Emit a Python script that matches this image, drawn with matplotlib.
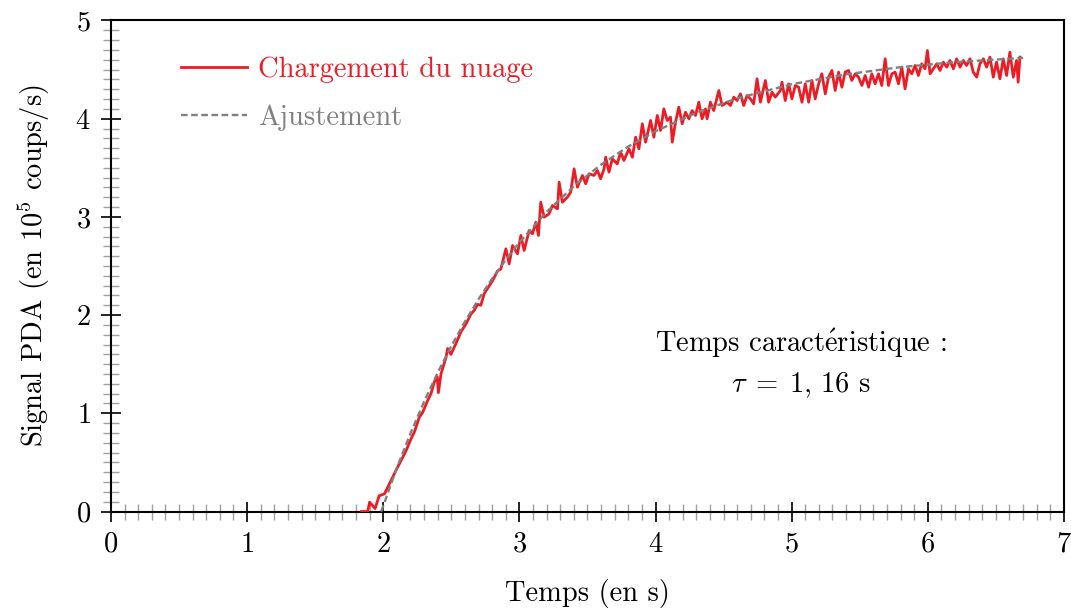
import matplotlib
matplotlib.use("Agg")
import matplotlib.pyplot as plt
from matplotlib.ticker import MultipleLocator

plt.rcParams['font.family'] = ['cmr10', 'DejaVu Serif']
plt.rcParams['mathtext.fontset'] = 'cm'
plt.rcParams['axes.formatter.use_mathtext'] = True

# mesure (signal PDA, en 1e5 coups/s)
t_mesure = [1.84, 1.886, 1.90, 1.94, 1.97, 2.009, 2.045, 2.094, 2.131, 2.168, 2.204, 2.229,
            2.265, 2.290, 2.326, 2.351, 2.375, 2.397, 2.405, 2.424, 2.461, 2.473, 2.497, 2.534,
            2.571, 2.608, 2.644, 2.669, 2.693, 2.717, 2.742, 2.779, 2.803, 2.840, 2.864,
            2.901, 2.925, 2.950, 2.986, 3.011, 3.035, 3.072, 3.096, 3.121, 3.140, 3.157, 3.182,
            3.218, 3.243, 3.280, 3.292, 3.316, 3.353, 3.377, 3.402, 3.426, 3.463, 3.487, 3.512,
            3.548, 3.573, 3.597, 3.622, 3.634, 3.658, 3.683, 3.719, 3.744, 3.768, 3.805, 3.830,
            3.854, 3.878,
            3.903, 3.927, 3.964, 3.988, 4.013, 4.037, 4.061, 4.086, 4.110, 4.123, 4.147, 4.171,
            4.196, 4.220, 4.245, 4.269, 4.294, 4.318, 4.342, 4.367, 4.379, 4.403, 4.428, 4.465,
            4.489, 4.526, 4.550, 4.575, 4.599, 4.624, 4.648, 4.672, 4.697, 4.721, 4.746, 4.770,
            4.807, 4.831, 4.856, 4.880, 4.917,
            4.929, 4.953, 4.978, 5.002, 5.027, 5.051, 5.076, 5.100, 5.125, 5.149, 5.173, 5.198,
            5.222, 5.247, 5.271, 5.296, 5.320, 5.345, 5.369, 5.393, 5.418, 5.442, 5.467, 5.491,
            5.516, 5.540, 5.565, 5.589, 5.613, 5.638, 5.662, 5.687, 5.711, 5.736, 5.760, 5.785,
            5.809,
            5.833, 5.858, 5.882, 5.907, 5.931, 5.955, 5.980, 5.997, 6.017, 6.041, 6.066, 6.090,
            6.114, 6.139, 6.163, 6.188, 6.212, 6.237, 6.261, 6.285, 6.310, 6.334, 6.359, 6.383,
            6.408, 6.432, 6.457, 6.481, 6.505, 6.530, 6.554, 6.579, 6.603, 6.628, 6.652, 6.664,
            6.677]
signal_mesure = [0.0, 0.0, 0.095, 0.03, 0.16, 0.18, 0.28, 0.42, 0.52, 0.62, 0.74, 0.81,
                 0.96, 1.01, 1.13, 1.20, 1.32, 1.37, 1.21, 1.40, 1.57, 1.66, 1.60, 1.71,
                 1.83, 1.91, 2.01, 2.05, 2.11, 2.10, 2.22, 2.30, 2.35, 2.45, 2.47,
                 2.675, 2.522, 2.709, 2.624, 2.811, 2.658, 2.862, 2.828, 2.946, 2.811, 3.150, 2.997,
                 3.031, 3.116, 3.082, 3.354, 3.150, 3.201, 3.252, 3.489, 3.303, 3.422, 3.337, 3.439,
                 3.422, 3.473, 3.388, 3.489, 3.608, 3.456, 3.591, 3.540, 3.659, 3.574, 3.693, 3.608,
                 3.812, 3.693,
                 3.948, 3.761, 3.982, 3.812, 4.033, 3.880, 4.100, 3.982, 4.016, 3.761, 3.965, 4.118,
                 3.948, 4.066, 3.999, 4.083, 4.033, 4.168, 3.999, 4.100, 3.999, 4.168, 4.083, 4.287,
                 4.134, 4.168, 4.134, 4.219, 4.185, 4.253, 4.134, 4.236, 4.202, 4.151, 4.406, 4.168,
                 4.389, 4.168, 4.270, 4.219, 4.287,
                 4.372, 4.185, 4.355, 4.202, 4.338, 4.321, 4.168, 4.355, 4.168, 4.389, 4.202, 4.355,
                 4.457, 4.253, 4.423, 4.491, 4.287, 4.474, 4.321, 4.474, 4.491, 4.389, 4.457, 4.423,
                 4.338, 4.440, 4.321, 4.457, 4.355, 4.457, 4.338, 4.610, 4.338, 4.457, 4.474, 4.355,
                 4.525,
                 4.304, 4.508, 4.457, 4.542, 4.440, 4.559, 4.508, 4.694, 4.457, 4.508, 4.559, 4.491,
                 4.576, 4.525, 4.593, 4.508, 4.610, 4.525, 4.593, 4.542, 4.610, 4.474, 4.423, 4.559,
                 4.610, 4.525, 4.627, 4.423, 4.576, 4.406, 4.610, 4.440, 4.677, 4.423, 4.593, 4.372,
                 4.627]

# ajustement exponentiel (tau = 1,16 s)
t_ajust = [1.985, 2.1, 2.2, 2.3, 2.4, 2.5, 2.6, 2.7, 2.8, 2.9, 3.0, 3.2, 3.4, 3.6, 3.8,
           4.0, 4.3, 4.6, 5.0, 5.4, 5.8, 6.2, 6.7]
signal_ajust = [0.0, 0.444, 0.795, 1.118, 1.414, 1.685, 1.934, 2.162, 2.372, 2.564, 2.741,
                3.051, 3.312, 3.532, 3.717, 3.872, 4.061, 4.207, 4.351, 4.452, 4.525, 4.576, 4.619]

rouge = '#ed1c24'
gris = '#808080'
fs = 20.5

fig = plt.figure(figsize=(10.71, 6.08), dpi=100)
ax = fig.add_axes([0.1036, 0.1587, 0.8898, 0.8076])

ax.plot(t_mesure, signal_mesure, color=rouge, lw=2.0, label='Chargement du nuage', zorder=3)
ax.plot(t_ajust, signal_ajust, color=gris, lw=1.7, dashes=(2.8, 1.5), label='Ajustement', zorder=4)

ax.set_xlim(0, 7)
ax.set_ylim(0, 5)
ax.xaxis.set_major_locator(MultipleLocator(1))
ax.xaxis.set_minor_locator(MultipleLocator(0.1))
ax.yaxis.set_major_locator(MultipleLocator(1))
ax.yaxis.set_minor_locator(MultipleLocator(0.1))
ax.tick_params(which='major', direction='inout', length=15, width=1.2, color='black',
               labelsize=fs, pad=7)
ax.tick_params(which='minor', direction='inout', length=11, width=1.0, color='#a0a0a0')
for s in ax.spines.values():
    s.set_linewidth(1.5)

ax.set_xlabel('Temps (en s)', fontsize=fs, labelpad=15)
ax.set_ylabel(r'Signal PDA (en $10^5$ coups/s)', fontsize=fs, labelpad=17)

ax.text(5.07, 1.71, r'Temps caract$\acute{\rm e}$ristique :', fontsize=fs, ha='center', va='center')
ax.text(5.07, 1.29, r'$\tau\;=\;1,\,16$ s', fontsize=fs, ha='center', va='center')

ax.legend(loc='upper left', bbox_to_anchor=(0.047, 0.978), frameon=False, fontsize=fs,
          handlelength=2.3, handletextpad=0.4, labelspacing=0.75, labelcolor='linecolor')

fig.savefig('out.png', dpi=100)
